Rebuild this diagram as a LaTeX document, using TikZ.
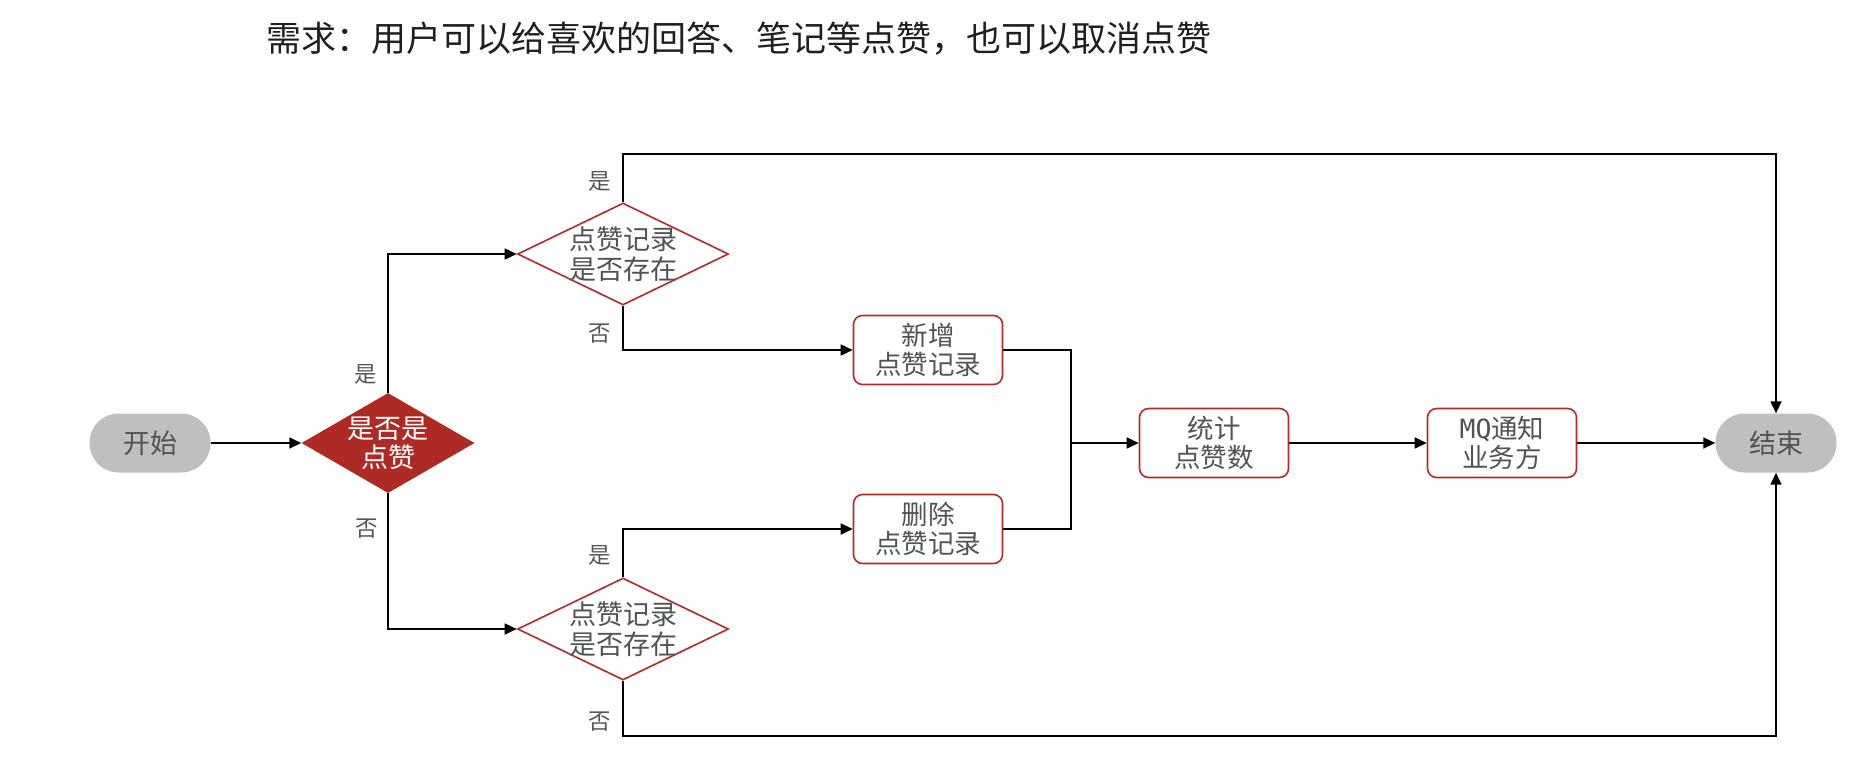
\documentclass[tikz,border=0pt]{standalone}
\usepackage{fontspec}
\setmainfont{Noto Sans CJK SC}
\newfontfamily\cjk{Noto Sans CJK SC}
\newfontfamily\monofont{DejaVu Sans Mono}
\usetikzlibrary{shapes.geometric,arrows.meta}
\definecolor{redfill}{HTML}{AE2A25}
\definecolor{redline}{HTML}{B22B27}
\definecolor{pill}{HTML}{BFBFBF}
\definecolor{txt}{HTML}{4F5454}
\definecolor{lbl}{HTML}{555555}
\tikzset{
  x=1pt, y=-1pt,
  conn/.style={line width=1.6pt, draw=black},
  arr/.style={conn, -{Triangle[length=12pt,width=11pt]}},
  pillbox/.style={rectangle, fill=pill, rounded corners=29pt, minimum width=121pt, minimum height=59pt, inner sep=0pt, text=txt, font=\fontsize{27}{29}\selectfont},
  procbox/.style={rectangle, draw=redline, line width=1.6pt, fill=white, rounded corners=9pt, minimum width=149pt, minimum height=69pt, inner sep=0pt, align=center, text=txt, font=\fontsize{26.5}{29}\selectfont},
  decbox/.style={diamond, draw=redline, line width=1.6pt, fill=white, minimum width=211pt, minimum height=102pt, inner sep=0pt},
  dectext/.style={align=center, text=txt, font=\fontsize{27}{30}\selectfont},
  ynlabel/.style={text=lbl, font=\fontsize{22.5}{24}\selectfont},
}
\begin{document}
\begin{tikzpicture}
\useasboundingbox (0,0) rectangle (1867,764);
\node[text=black!88, font=\fontsize{35}{40}\selectfont] (title) at (739,39) {需求：用户可以给喜欢的回答、笔记等点赞，也可以取消点赞};

\node[pillbox] (start) at (150,443) {开始};
\node[diamond, fill=redfill, minimum width=173pt, minimum height=100pt, inner sep=0pt] (d1) at (388,443) {};
\node[align=center, text=white, font=\fontsize{27}{29}\selectfont] (d1t) at (d1.center) {是否是\\点赞};

\node[decbox] (d2) at (623,254) {};
\node[dectext] (d2t) at (d2.center) {点赞记录\\是否存在};
\node[decbox] (d3) at (623,629) {};
\node[dectext] (d3t) at (d3.center) {点赞记录\\是否存在};

\node[procbox] (add) at (928,350) {新增\\点赞记录};
\node[procbox] (del) at (928,529) {删除\\点赞记录};
\node[procbox] (count) at (1214,443) {统计\\点赞数};
\node[procbox] (mq) at (1502,443) {{\monofont MQ}通知\\业务方};
\node[pillbox] (end) at (1776,443) {结束};

\coordinate (top) at (623,154);
\coordinate (bot) at (623,736);
\coordinate (m) at (1071,443);

\draw[arr] (start.east) -- (d1.west);
\draw[arr] (d1.north) |- (d2.west);
\draw[arr] (d1.south) |- (d3.west);
\draw[arr] (d2.north) -- (top) -| (end.north);
\draw[arr] (d2.south) |- (add.west);
\draw[arr] (d3.north) |- (del.west);
\draw[arr] (d3.south) -- (bot) -| (end.south);
\draw[conn] (add.east) -| (m);
\draw[conn] (del.east) -| (m);
\draw[arr] (m) -- (count.west);
\draw[arr] (count.east) -- (mq.west);
\draw[arr] (mq.east) -- (end.west);

\node[ynlabel] (l1) at (366,374) {是};
\node[ynlabel] (l2) at (367,529) {否};
\node[ynlabel] (l3) at (600,181) {是};
\node[ynlabel] (l4) at (600,334) {否};
\node[ynlabel] (l5) at (600,555) {是};
\node[ynlabel] (l6) at (600,722) {否};
\end{tikzpicture}
\end{document}
